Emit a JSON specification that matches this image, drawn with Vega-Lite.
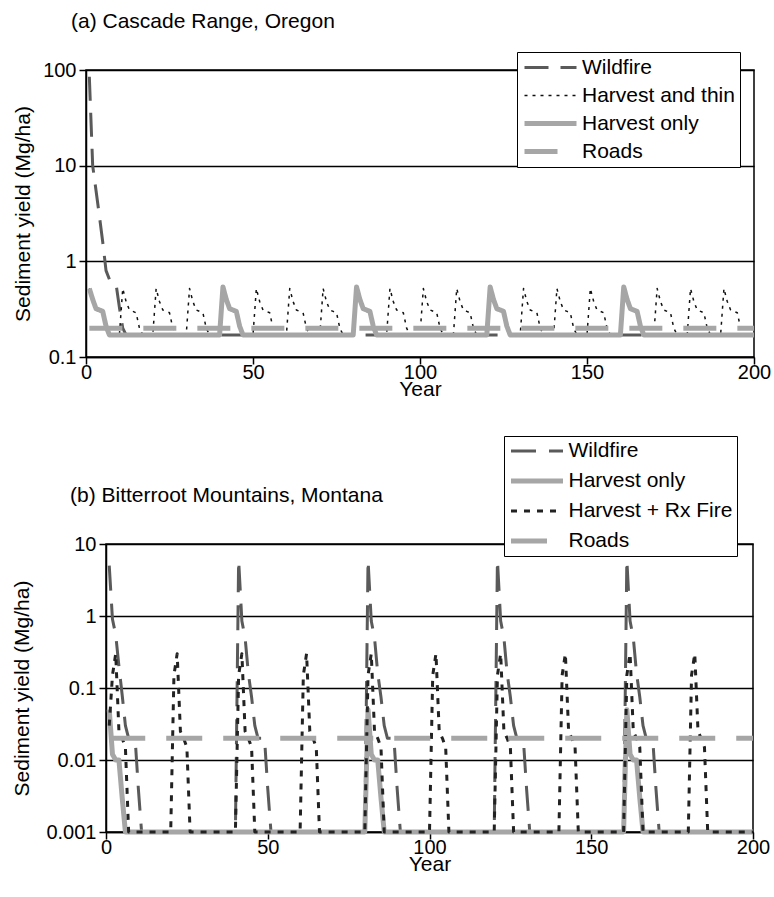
{
"$schema": "https://vega.github.io/schema/vega-lite/v6.json",
"background": "white",
"padding": {"left": 4, "top": 10, "right": 2, "bottom": 5},
"datasets": {
"a": [
{"s":"Wildfire","x":1,"y":85},{"s":"Wildfire","x":2,"y":10},{"s":"Wildfire","x":3,"y":5.5},{"s":"Wildfire","x":4,"y":3},{"s":"Wildfire","x":5,"y":1.6},{"s":"Wildfire","x":6,"y":0.8},{"s":"Wildfire","x":7,"y":0.65},{"s":"Wildfire","x":8,"y":0.62},{"s":"Wildfire","x":9,"y":0.58},{"s":"Wildfire","x":10,"y":0.33},{"s":"Wildfire","x":11,"y":0.2},{"s":"Wildfire","x":12,"y":0.17},{"s":"Wildfire","x":200,"y":0.17},
{"s":"Harvest and thin","x":1,"y":0.52},{"s":"Harvest and thin","x":2,"y":0.38},{"s":"Harvest and thin","x":3,"y":0.31},{"s":"Harvest and thin","x":4,"y":0.3},{"s":"Harvest and thin","x":5,"y":0.29},{"s":"Harvest and thin","x":6,"y":0.2},{"s":"Harvest and thin","x":7,"y":0.17},
{"s":"Harvest and thin","x":10,"y":0.17},{"s":"Harvest and thin","x":11,"y":0.52},{"s":"Harvest and thin","x":12,"y":0.38},{"s":"Harvest and thin","x":13,"y":0.31},{"s":"Harvest and thin","x":14,"y":0.3},{"s":"Harvest and thin","x":15,"y":0.29},{"s":"Harvest and thin","x":16,"y":0.2},{"s":"Harvest and thin","x":17,"y":0.17},
{"s":"Harvest and thin","x":20,"y":0.17},{"s":"Harvest and thin","x":21,"y":0.52},{"s":"Harvest and thin","x":22,"y":0.38},{"s":"Harvest and thin","x":23,"y":0.31},{"s":"Harvest and thin","x":24,"y":0.3},{"s":"Harvest and thin","x":25,"y":0.29},{"s":"Harvest and thin","x":26,"y":0.2},{"s":"Harvest and thin","x":27,"y":0.17},
{"s":"Harvest and thin","x":30,"y":0.17},{"s":"Harvest and thin","x":31,"y":0.52},{"s":"Harvest and thin","x":32,"y":0.38},{"s":"Harvest and thin","x":33,"y":0.31},{"s":"Harvest and thin","x":34,"y":0.3},{"s":"Harvest and thin","x":35,"y":0.29},{"s":"Harvest and thin","x":36,"y":0.2},{"s":"Harvest and thin","x":37,"y":0.17},
{"s":"Harvest and thin","x":40,"y":0.17},{"s":"Harvest and thin","x":41,"y":0.52},{"s":"Harvest and thin","x":42,"y":0.38},{"s":"Harvest and thin","x":43,"y":0.31},{"s":"Harvest and thin","x":44,"y":0.3},{"s":"Harvest and thin","x":45,"y":0.29},{"s":"Harvest and thin","x":46,"y":0.2},{"s":"Harvest and thin","x":47,"y":0.17},
{"s":"Harvest and thin","x":50,"y":0.17},{"s":"Harvest and thin","x":51,"y":0.52},{"s":"Harvest and thin","x":52,"y":0.38},{"s":"Harvest and thin","x":53,"y":0.31},{"s":"Harvest and thin","x":54,"y":0.3},{"s":"Harvest and thin","x":55,"y":0.29},{"s":"Harvest and thin","x":56,"y":0.2},{"s":"Harvest and thin","x":57,"y":0.17},
{"s":"Harvest and thin","x":60,"y":0.17},{"s":"Harvest and thin","x":61,"y":0.52},{"s":"Harvest and thin","x":62,"y":0.38},{"s":"Harvest and thin","x":63,"y":0.31},{"s":"Harvest and thin","x":64,"y":0.3},{"s":"Harvest and thin","x":65,"y":0.29},{"s":"Harvest and thin","x":66,"y":0.2},{"s":"Harvest and thin","x":67,"y":0.17},
{"s":"Harvest and thin","x":70,"y":0.17},{"s":"Harvest and thin","x":71,"y":0.52},{"s":"Harvest and thin","x":72,"y":0.38},{"s":"Harvest and thin","x":73,"y":0.31},{"s":"Harvest and thin","x":74,"y":0.3},{"s":"Harvest and thin","x":75,"y":0.29},{"s":"Harvest and thin","x":76,"y":0.2},{"s":"Harvest and thin","x":77,"y":0.17},
{"s":"Harvest and thin","x":80,"y":0.17},{"s":"Harvest and thin","x":81,"y":0.52},{"s":"Harvest and thin","x":82,"y":0.38},{"s":"Harvest and thin","x":83,"y":0.31},{"s":"Harvest and thin","x":84,"y":0.3},{"s":"Harvest and thin","x":85,"y":0.29},{"s":"Harvest and thin","x":86,"y":0.2},{"s":"Harvest and thin","x":87,"y":0.17},
{"s":"Harvest and thin","x":90,"y":0.17},{"s":"Harvest and thin","x":91,"y":0.52},{"s":"Harvest and thin","x":92,"y":0.38},{"s":"Harvest and thin","x":93,"y":0.31},{"s":"Harvest and thin","x":94,"y":0.3},{"s":"Harvest and thin","x":95,"y":0.29},{"s":"Harvest and thin","x":96,"y":0.2},{"s":"Harvest and thin","x":97,"y":0.17},
{"s":"Harvest and thin","x":100,"y":0.17},{"s":"Harvest and thin","x":101,"y":0.52},{"s":"Harvest and thin","x":102,"y":0.38},{"s":"Harvest and thin","x":103,"y":0.31},{"s":"Harvest and thin","x":104,"y":0.3},{"s":"Harvest and thin","x":105,"y":0.29},{"s":"Harvest and thin","x":106,"y":0.2},{"s":"Harvest and thin","x":107,"y":0.17},
{"s":"Harvest and thin","x":110,"y":0.17},{"s":"Harvest and thin","x":111,"y":0.52},{"s":"Harvest and thin","x":112,"y":0.38},{"s":"Harvest and thin","x":113,"y":0.31},{"s":"Harvest and thin","x":114,"y":0.3},{"s":"Harvest and thin","x":115,"y":0.29},{"s":"Harvest and thin","x":116,"y":0.2},{"s":"Harvest and thin","x":117,"y":0.17},
{"s":"Harvest and thin","x":120,"y":0.17},{"s":"Harvest and thin","x":121,"y":0.52},{"s":"Harvest and thin","x":122,"y":0.38},{"s":"Harvest and thin","x":123,"y":0.31},{"s":"Harvest and thin","x":124,"y":0.3},{"s":"Harvest and thin","x":125,"y":0.29},{"s":"Harvest and thin","x":126,"y":0.2},{"s":"Harvest and thin","x":127,"y":0.17},
{"s":"Harvest and thin","x":130,"y":0.17},{"s":"Harvest and thin","x":131,"y":0.52},{"s":"Harvest and thin","x":132,"y":0.38},{"s":"Harvest and thin","x":133,"y":0.31},{"s":"Harvest and thin","x":134,"y":0.3},{"s":"Harvest and thin","x":135,"y":0.29},{"s":"Harvest and thin","x":136,"y":0.2},{"s":"Harvest and thin","x":137,"y":0.17},
{"s":"Harvest and thin","x":140,"y":0.17},{"s":"Harvest and thin","x":141,"y":0.52},{"s":"Harvest and thin","x":142,"y":0.38},{"s":"Harvest and thin","x":143,"y":0.31},{"s":"Harvest and thin","x":144,"y":0.3},{"s":"Harvest and thin","x":145,"y":0.29},{"s":"Harvest and thin","x":146,"y":0.2},{"s":"Harvest and thin","x":147,"y":0.17},
{"s":"Harvest and thin","x":150,"y":0.17},{"s":"Harvest and thin","x":151,"y":0.52},{"s":"Harvest and thin","x":152,"y":0.38},{"s":"Harvest and thin","x":153,"y":0.31},{"s":"Harvest and thin","x":154,"y":0.3},{"s":"Harvest and thin","x":155,"y":0.29},{"s":"Harvest and thin","x":156,"y":0.2},{"s":"Harvest and thin","x":157,"y":0.17},
{"s":"Harvest and thin","x":160,"y":0.17},{"s":"Harvest and thin","x":161,"y":0.52},{"s":"Harvest and thin","x":162,"y":0.38},{"s":"Harvest and thin","x":163,"y":0.31},{"s":"Harvest and thin","x":164,"y":0.3},{"s":"Harvest and thin","x":165,"y":0.29},{"s":"Harvest and thin","x":166,"y":0.2},{"s":"Harvest and thin","x":167,"y":0.17},
{"s":"Harvest and thin","x":170,"y":0.17},{"s":"Harvest and thin","x":171,"y":0.52},{"s":"Harvest and thin","x":172,"y":0.38},{"s":"Harvest and thin","x":173,"y":0.31},{"s":"Harvest and thin","x":174,"y":0.3},{"s":"Harvest and thin","x":175,"y":0.29},{"s":"Harvest and thin","x":176,"y":0.2},{"s":"Harvest and thin","x":177,"y":0.17},
{"s":"Harvest and thin","x":180,"y":0.17},{"s":"Harvest and thin","x":181,"y":0.52},{"s":"Harvest and thin","x":182,"y":0.38},{"s":"Harvest and thin","x":183,"y":0.31},{"s":"Harvest and thin","x":184,"y":0.3},{"s":"Harvest and thin","x":185,"y":0.29},{"s":"Harvest and thin","x":186,"y":0.2},{"s":"Harvest and thin","x":187,"y":0.17},
{"s":"Harvest and thin","x":190,"y":0.17},{"s":"Harvest and thin","x":191,"y":0.52},{"s":"Harvest and thin","x":192,"y":0.38},{"s":"Harvest and thin","x":193,"y":0.31},{"s":"Harvest and thin","x":194,"y":0.3},{"s":"Harvest and thin","x":195,"y":0.29},{"s":"Harvest and thin","x":196,"y":0.2},{"s":"Harvest and thin","x":197,"y":0.17},
{"s":"Harvest and thin","x":200,"y":0.17},
{"s":"Harvest only","x":1,"y":0.52},{"s":"Harvest only","x":2,"y":0.4},{"s":"Harvest only","x":3,"y":0.32},{"s":"Harvest only","x":4,"y":0.31},{"s":"Harvest only","x":5,"y":0.3},{"s":"Harvest only","x":6,"y":0.21},{"s":"Harvest only","x":7,"y":0.17},
{"s":"Harvest only","x":40,"y":0.17},{"s":"Harvest only","x":41,"y":0.54},{"s":"Harvest only","x":42,"y":0.4},{"s":"Harvest only","x":43,"y":0.32},{"s":"Harvest only","x":44,"y":0.31},{"s":"Harvest only","x":45,"y":0.3},{"s":"Harvest only","x":46,"y":0.21},{"s":"Harvest only","x":47,"y":0.17},
{"s":"Harvest only","x":80,"y":0.17},{"s":"Harvest only","x":81,"y":0.54},{"s":"Harvest only","x":82,"y":0.4},{"s":"Harvest only","x":83,"y":0.32},{"s":"Harvest only","x":84,"y":0.31},{"s":"Harvest only","x":85,"y":0.3},{"s":"Harvest only","x":86,"y":0.21},{"s":"Harvest only","x":87,"y":0.17},
{"s":"Harvest only","x":120,"y":0.17},{"s":"Harvest only","x":121,"y":0.54},{"s":"Harvest only","x":122,"y":0.4},{"s":"Harvest only","x":123,"y":0.32},{"s":"Harvest only","x":124,"y":0.31},{"s":"Harvest only","x":125,"y":0.3},{"s":"Harvest only","x":126,"y":0.21},{"s":"Harvest only","x":127,"y":0.17},
{"s":"Harvest only","x":160,"y":0.17},{"s":"Harvest only","x":161,"y":0.54},{"s":"Harvest only","x":162,"y":0.4},{"s":"Harvest only","x":163,"y":0.32},{"s":"Harvest only","x":164,"y":0.31},{"s":"Harvest only","x":165,"y":0.3},{"s":"Harvest only","x":166,"y":0.21},{"s":"Harvest only","x":167,"y":0.17},
{"s":"Harvest only","x":200,"y":0.17},
{"s":"Roads","x":1,"y":0.2},{"s":"Roads","x":200,"y":0.2}
],
"b": [
{"s":"Wildfire","x":1,"y":5},{"s":"Wildfire","x":2,"y":0.9},{"s":"Wildfire","x":3,"y":0.55},{"s":"Wildfire","x":4,"y":0.2},{"s":"Wildfire","x":5,"y":0.08},{"s":"Wildfire","x":6,"y":0.03},{"s":"Wildfire","x":7,"y":0.02},{"s":"Wildfire","x":8,"y":0.02},{"s":"Wildfire","x":9,"y":0.02},{"s":"Wildfire","x":10,"y":0.004},{"s":"Wildfire","x":11,"y":0.001},
{"s":"Wildfire","x":40,"y":0.001},{"s":"Wildfire","x":41,"y":6},{"s":"Wildfire","x":42,"y":0.85},{"s":"Wildfire","x":43,"y":0.5},{"s":"Wildfire","x":44,"y":0.16},{"s":"Wildfire","x":45,"y":0.075},{"s":"Wildfire","x":46,"y":0.03},{"s":"Wildfire","x":47,"y":0.02},{"s":"Wildfire","x":48,"y":0.02},{"s":"Wildfire","x":49,"y":0.02},{"s":"Wildfire","x":50,"y":0.004},{"s":"Wildfire","x":51,"y":0.001},
{"s":"Wildfire","x":80,"y":0.001},{"s":"Wildfire","x":81,"y":6},{"s":"Wildfire","x":82,"y":0.85},{"s":"Wildfire","x":83,"y":0.5},{"s":"Wildfire","x":84,"y":0.16},{"s":"Wildfire","x":85,"y":0.075},{"s":"Wildfire","x":86,"y":0.03},{"s":"Wildfire","x":87,"y":0.02},{"s":"Wildfire","x":88,"y":0.02},{"s":"Wildfire","x":89,"y":0.02},{"s":"Wildfire","x":90,"y":0.004},{"s":"Wildfire","x":91,"y":0.001},
{"s":"Wildfire","x":120,"y":0.001},{"s":"Wildfire","x":121,"y":6},{"s":"Wildfire","x":122,"y":0.85},{"s":"Wildfire","x":123,"y":0.5},{"s":"Wildfire","x":124,"y":0.16},{"s":"Wildfire","x":125,"y":0.075},{"s":"Wildfire","x":126,"y":0.03},{"s":"Wildfire","x":127,"y":0.02},{"s":"Wildfire","x":128,"y":0.02},{"s":"Wildfire","x":129,"y":0.02},{"s":"Wildfire","x":130,"y":0.004},{"s":"Wildfire","x":131,"y":0.001},
{"s":"Wildfire","x":160,"y":0.001},{"s":"Wildfire","x":161,"y":6},{"s":"Wildfire","x":162,"y":0.85},{"s":"Wildfire","x":163,"y":0.5},{"s":"Wildfire","x":164,"y":0.16},{"s":"Wildfire","x":165,"y":0.075},{"s":"Wildfire","x":166,"y":0.03},{"s":"Wildfire","x":167,"y":0.02},{"s":"Wildfire","x":168,"y":0.02},{"s":"Wildfire","x":169,"y":0.02},{"s":"Wildfire","x":170,"y":0.004},{"s":"Wildfire","x":171,"y":0.001},
{"s":"Wildfire","x":200,"y":0.001},
{"s":"Harvest only","x":1,"y":0.05},{"s":"Harvest only","x":2,"y":0.012},{"s":"Harvest only","x":3,"y":0.01},{"s":"Harvest only","x":4,"y":0.01},{"s":"Harvest only","x":5,"y":0.003},{"s":"Harvest only","x":6,"y":0.001},
{"s":"Harvest only","x":80,"y":0.001},{"s":"Harvest only","x":81,"y":0.05},{"s":"Harvest only","x":82,"y":0.012},{"s":"Harvest only","x":83,"y":0.01},{"s":"Harvest only","x":84,"y":0.01},{"s":"Harvest only","x":85,"y":0.003},{"s":"Harvest only","x":86,"y":0.001},
{"s":"Harvest only","x":160,"y":0.001},{"s":"Harvest only","x":161,"y":0.05},{"s":"Harvest only","x":162,"y":0.012},{"s":"Harvest only","x":163,"y":0.01},{"s":"Harvest only","x":164,"y":0.01},{"s":"Harvest only","x":165,"y":0.003},{"s":"Harvest only","x":166,"y":0.001},
{"s":"Harvest only","x":200,"y":0.001},
{"s":"Harvest + Rx Fire","x":1,"y":0.03},{"s":"Harvest + Rx Fire","x":2,"y":0.15},{"s":"Harvest + Rx Fire","x":3,"y":0.3},{"s":"Harvest + Rx Fire","x":4,"y":0.025},{"s":"Harvest + Rx Fire","x":5,"y":0.02},{"s":"Harvest + Rx Fire","x":6,"y":0.015},{"s":"Harvest + Rx Fire","x":7,"y":0.001},
{"s":"Harvest + Rx Fire","x":20,"y":0.001},{"s":"Harvest + Rx Fire","x":21,"y":0.15},{"s":"Harvest + Rx Fire","x":22,"y":0.3},{"s":"Harvest + Rx Fire","x":23,"y":0.025},{"s":"Harvest + Rx Fire","x":24,"y":0.02},{"s":"Harvest + Rx Fire","x":25,"y":0.015},{"s":"Harvest + Rx Fire","x":26,"y":0.001},
{"s":"Harvest + Rx Fire","x":40,"y":0.001},{"s":"Harvest + Rx Fire","x":41,"y":0.15},{"s":"Harvest + Rx Fire","x":42,"y":0.3},{"s":"Harvest + Rx Fire","x":43,"y":0.025},{"s":"Harvest + Rx Fire","x":44,"y":0.02},{"s":"Harvest + Rx Fire","x":45,"y":0.015},{"s":"Harvest + Rx Fire","x":46,"y":0.001},
{"s":"Harvest + Rx Fire","x":60,"y":0.001},{"s":"Harvest + Rx Fire","x":61,"y":0.15},{"s":"Harvest + Rx Fire","x":62,"y":0.3},{"s":"Harvest + Rx Fire","x":63,"y":0.025},{"s":"Harvest + Rx Fire","x":64,"y":0.02},{"s":"Harvest + Rx Fire","x":65,"y":0.015},{"s":"Harvest + Rx Fire","x":66,"y":0.001},
{"s":"Harvest + Rx Fire","x":80,"y":0.001},{"s":"Harvest + Rx Fire","x":81,"y":0.15},{"s":"Harvest + Rx Fire","x":82,"y":0.3},{"s":"Harvest + Rx Fire","x":83,"y":0.025},{"s":"Harvest + Rx Fire","x":84,"y":0.02},{"s":"Harvest + Rx Fire","x":85,"y":0.015},{"s":"Harvest + Rx Fire","x":86,"y":0.001},
{"s":"Harvest + Rx Fire","x":100,"y":0.001},{"s":"Harvest + Rx Fire","x":101,"y":0.15},{"s":"Harvest + Rx Fire","x":102,"y":0.3},{"s":"Harvest + Rx Fire","x":103,"y":0.025},{"s":"Harvest + Rx Fire","x":104,"y":0.02},{"s":"Harvest + Rx Fire","x":105,"y":0.015},{"s":"Harvest + Rx Fire","x":106,"y":0.001},
{"s":"Harvest + Rx Fire","x":120,"y":0.001},{"s":"Harvest + Rx Fire","x":121,"y":0.15},{"s":"Harvest + Rx Fire","x":122,"y":0.3},{"s":"Harvest + Rx Fire","x":123,"y":0.025},{"s":"Harvest + Rx Fire","x":124,"y":0.02},{"s":"Harvest + Rx Fire","x":125,"y":0.015},{"s":"Harvest + Rx Fire","x":126,"y":0.001},
{"s":"Harvest + Rx Fire","x":140,"y":0.001},{"s":"Harvest + Rx Fire","x":141,"y":0.15},{"s":"Harvest + Rx Fire","x":142,"y":0.3},{"s":"Harvest + Rx Fire","x":143,"y":0.025},{"s":"Harvest + Rx Fire","x":144,"y":0.02},{"s":"Harvest + Rx Fire","x":145,"y":0.015},{"s":"Harvest + Rx Fire","x":146,"y":0.001},
{"s":"Harvest + Rx Fire","x":160,"y":0.001},{"s":"Harvest + Rx Fire","x":161,"y":0.15},{"s":"Harvest + Rx Fire","x":162,"y":0.3},{"s":"Harvest + Rx Fire","x":163,"y":0.025},{"s":"Harvest + Rx Fire","x":164,"y":0.02},{"s":"Harvest + Rx Fire","x":165,"y":0.015},{"s":"Harvest + Rx Fire","x":166,"y":0.001},
{"s":"Harvest + Rx Fire","x":180,"y":0.001},{"s":"Harvest + Rx Fire","x":181,"y":0.15},{"s":"Harvest + Rx Fire","x":182,"y":0.3},{"s":"Harvest + Rx Fire","x":183,"y":0.025},{"s":"Harvest + Rx Fire","x":184,"y":0.02},{"s":"Harvest + Rx Fire","x":185,"y":0.015},{"s":"Harvest + Rx Fire","x":186,"y":0.001},
{"s":"Harvest + Rx Fire","x":200,"y":0.001},
{"s":"Roads","x":1,"y":0.02},{"s":"Roads","x":200,"y":0.02}
]
},
"spacing": 35,
"resolve": {"scale": {"color": "independent", "strokeDash": "independent", "strokeWidth": "independent"}, "legend": {"color": "independent", "strokeDash": "independent", "strokeWidth": "independent"}},
"vconcat": [
{"spacing": 0, "hconcat": [
{"width": 1, "height": 1, "view": {"stroke": null}, "data": {"values": [{"k": 1}]}, "mark": {"type": "point", "opacity": 0}, "encoding": {}},
{
"width": 668, "height": 287,
"title": {"text": "(a) Cascade Range, Oregon", "anchor": "start", "frame": "group", "dx": -15, "offset": 28},
"data": {"name": "a"},
"mark": {"type": "line", "strokeJoin": "round", "strokeCap": "butt"},
"encoding": {
"x": {"field": "x", "type": "quantitative", "scale": {"domain": [0, 200], "nice": false},
"axis": {"values": [0, 50, 100, 150, 200], "title": "Year", "grid": false, "labelPadding": -2, "titleY": 21, "titleBaseline": "top"}},
"y": {"field": "y", "type": "quantitative", "scale": {"type": "log", "domain": [0.1, 100], "nice": false},
"axis": {"values": [0.1, 1, 10, 100], "format": "~g", "title": "Sediment yield (Mg/ha)", "grid": true, "labelPadding": 3, "titlePadding": 9}},
"color": {"field": "s", "type": "nominal",
"scale": {"domain": ["Wildfire", "Harvest and thin", "Harvest only", "Roads"], "range": ["#5a5a5a", "#111111", "#a6a6a6", "#a6a6a6"]},
"legend": {"orient": "none", "legendX": 510, "legendY": -18, "title": null, "symbolType": "stroke", "symbolSize": 2704, "clipHeight": 21, "labelFontSize": 21, "labelLimit": 400, "labelOffset": 3, "rowPadding": 6, "padding": 5, "strokeColor": "black", "fillColor": "white", "labelColor": "black"}},
"strokeDash": {"field": "s", "type": "nominal",
"scale": {"domain": ["Wildfire", "Harvest and thin", "Harvest only", "Roads"], "range": [[24, 12], [3, 5], [1, 0], [33, 21]]}},
"strokeWidth": {"field": "s", "type": "nominal",
"scale": {"type": "ordinal", "domain": ["Wildfire", "Harvest and thin", "Harvest only", "Roads"], "range": [3, 1.5, 5, 5]}}
}
}
]},
{"spacing": 0, "hconcat": [
{"width": 1, "height": 1, "view": {"stroke": null}, "data": {"values": [{"k": 1}]}, "mark": {"type": "point", "opacity": 0}, "encoding": {}},
{
"width": 647, "height": 288,
"title": {"text": "(b) Bitterroot Mountains, Montana", "anchor": "start", "frame": "group", "dx": -36, "offset": 28},
"data": {"name": "b"},
"mark": {"type": "line", "strokeJoin": "round", "strokeCap": "butt"},
"encoding": {
"x": {"field": "x", "type": "quantitative", "scale": {"domain": [0, 200], "nice": false},
"axis": {"values": [0, 50, 100, 150, 200], "title": "Year", "grid": false, "labelPadding": -2, "titleY": 21, "titleBaseline": "top"}},
"y": {"field": "y", "type": "quantitative", "scale": {"type": "log", "domain": [0.001, 10], "nice": false},
"axis": {"values": [0.001, 0.01, 0.1, 1, 10], "format": "~g", "title": "Sediment yield (Mg/ha)", "grid": true, "labelPadding": 3, "titlePadding": 13}},
"color": {"field": "s", "type": "nominal",
"scale": {"domain": ["Wildfire", "Harvest only", "Harvest + Rx Fire", "Roads"], "range": ["#5a5a5a", "#a6a6a6", "#222222", "#a6a6a6"]},
"legend": {"orient": "none", "legendX": 497, "legendY": -108, "title": null, "symbolType": "stroke", "symbolSize": 2704, "clipHeight": 21, "labelFontSize": 21, "labelLimit": 400, "labelOffset": 3, "rowPadding": 8, "padding": 4.5, "strokeColor": "black", "fillColor": "white", "labelColor": "black"}},
"strokeDash": {"field": "s", "type": "nominal",
"scale": {"domain": ["Wildfire", "Harvest only", "Harvest + Rx Fire", "Roads"], "range": [[25, 13], [1, 0], [6, 7], [36, 21]]}},
"strokeWidth": {"field": "s", "type": "nominal",
"scale": {"type": "ordinal", "domain": ["Wildfire", "Harvest only", "Harvest + Rx Fire", "Roads"], "range": [3, 5, 3, 5]}}
}
}
]}
],
"config": {
"font": "Liberation Sans",
"view": {"stroke": "black", "strokeWidth": 1.5},
"title": {"fontSize": 21, "fontWeight": "normal", "color": "black"},
"axis": {"domainColor": "black", "domainWidth": 1.5, "tickColor": "black", "tickWidth": 1.5, "tickSize": 7,
"labelColor": "black", "labelFontSize": 20, "titleColor": "black", "titleFontSize": 21, "titleFontWeight": "normal",
"gridColor": "black", "gridWidth": 1.5, "gridOpacity": 1, "labelFlush": false, "labelOverlap": false}
}
}
